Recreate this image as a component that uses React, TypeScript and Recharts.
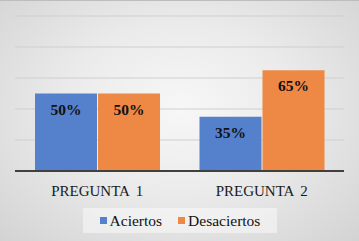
import { BarChart, Bar, XAxis, YAxis, CartesianGrid, Legend, LabelList } from "recharts"

const preguntas = ["PREGUNTA 1", "PREGUNTA 2"]
const aciertos = [50, 35]
const desaciertos = [50, 65]
const yTicks = [0, 20, 40, 60, 80, 100]

const data = preguntas.map((p, i) => ({
  pregunta: p,
  aciertos: aciertos[i],
  desaciertos: desaciertos[i],
}))

const BLUE = "#5580cb"
const ORANGE = "#ee8845"
const FONT = "'Liberation Serif', 'DejaVu Serif', serif"

const legendItems = [
  { label: "Aciertos", color: BLUE },
  { label: "Desaciertos", color: ORANGE },
]

const renderLegend = () => (
  <div
    style={{
      display: "flex",
      justifyContent: "center",
      alignItems: "center",
      height: 25,
      background: "rgba(255,255,255,0.45)",
      fontFamily: FONT,
      fontSize: 15.5,
      color: "#111",
    }}
  >
    {legendItems.map((it, i) => (
      <span key={it.label} style={{ display: "flex", alignItems: "center", marginLeft: i ? 16 : 0, fontFamily: FONT }}>
        <span style={{ width: 7, height: 7, background: it.color, marginRight: 3, display: "inline-block" }} />
        {it.label}
      </span>
    ))}
  </div>
)

export default function App() {
  return (
    <div
      style={{
        position: "absolute",
        top: 0,
        left: 0,
        width: 359,
        height: 241,
        background: "radial-gradient(ellipse at 50% 45%, #f7f7f7 0%, #ebebeb 45%, #d3d3d3 100%)",
        boxSizing: "border-box",
        borderTop: "1px solid #bdbdbd",
      }}
    >
      <BarChart
        width={359}
        height={241}
        data={data}
        margin={{ top: 15, right: 15, left: 15, bottom: 9 }}
        barGap={1}
        barCategoryGap={20}
      >
        <CartesianGrid vertical={false} stroke="#cfcfcf" strokeWidth={1} />
        <YAxis hide domain={[0, 100]} ticks={yTicks} />
        <XAxis
          dataKey="pregunta"
          height={37}
          stroke="#404040"
          strokeWidth={2}
          tickLine={false}
          tickSize={0}
          tickMargin={14}
          tick={{ fill: "#1a1a1a", fontFamily: FONT, fontSize: 15, wordSpacing: 3 }}
        />
        <Legend
          content={renderLegend}
          wrapperStyle={{ top: 207, left: 83, width: 194, height: 25 }}
        />
        <Bar dataKey="aciertos" name="Aciertos" fill={BLUE} isAnimationActive={false}>
          <LabelList
            dataKey="aciertos"
            position="insideTop"
            offset={10}
            formatter={(v: number) => `${v}%`}
            style={{ fill: "#111", fontFamily: FONT, fontSize: 15.5, fontWeight: "bold" }}
          />
        </Bar>
        <Bar dataKey="desaciertos" name="Desaciertos" fill={ORANGE} isAnimationActive={false}>
          <LabelList
            dataKey="desaciertos"
            position="insideTop"
            offset={10}
            formatter={(v: number) => `${v}%`}
            style={{ fill: "#111", fontFamily: FONT, fontSize: 15.5, fontWeight: "bold" }}
          />
        </Bar>
      </BarChart>
    </div>
  )
}
